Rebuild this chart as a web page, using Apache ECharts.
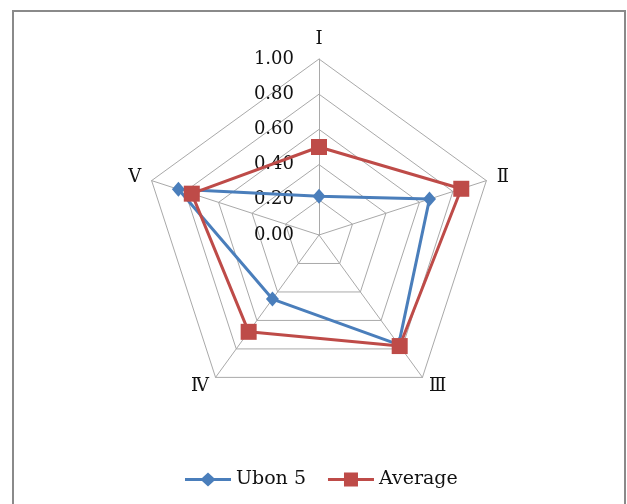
<!DOCTYPE html>
<html>
<head>
<meta charset="utf-8">
<script src="https://cdn.jsdelivr.net/npm/echarts@6/dist/echarts.min.js"></script>
<style>
  html, body { margin: 0; padding: 0; background: #fff; }
  #chart { width: 627px; height: 504px; }
</style>
</head>
<body>
<div id="chart"></div>
<script>
// Axes of the radar, in reading order (clockwise from the top)
const categories = ['Ⅰ', 'Ⅱ', 'Ⅲ', 'Ⅳ', 'Ⅴ'];
const ubon5 = [0.22, 0.66, 0.77, 0.45, 0.84];
const average = [0.50, 0.85, 0.78, 0.68, 0.76];
const tickValues = [0, 0.2, 0.4, 0.6, 0.8, 1.0];

const FONT = "'DejaVu Serif', 'Liberation Serif', serif";
const TEXT = '#111';
const CX = 319, CY = 235, R = 176;

// ECharts lays radar indicators out counter-clockwise, so feed them reversed after the first
const order = [0, 4, 3, 2, 1];
const pick = arr => order.map(i => arr[i]);

// legend keys: a line with the series marker in the middle
const ICON_DIAMOND = 'path://M0,5.5H17L23,0L29,5.5H46V8.5H29L23,14L17,8.5H0Z';
const ICON_SQUARE = 'path://M0,5.5H16V0H30V5.5H46V8.5H30V14H16V8.5H0Z';

const chart = echarts.init(document.getElementById('chart'));
chart.setOption({
  animation: false,
  backgroundColor: '#fff',
  graphic: [{
    type: 'rect',
    shape: { x: 13, y: 11, width: 612, height: 520 },
    style: { fill: 'none', stroke: '#8a8a8a', lineWidth: 2 },
    silent: true
  }],
  legend: {
    bottom: 10,
    left: 180,
    itemWidth: 46,
    itemHeight: 14,
    itemGap: 22,
    textStyle: { fontFamily: FONT, fontSize: 19, color: TEXT },
    data: [
      { name: 'Ubon 5', icon: ICON_DIAMOND },
      { name: 'Average', icon: ICON_SQUARE }
    ]
  },
  radar: {
    center: [CX, CY],
    radius: R,
    startAngle: 90,
    splitNumber: 5,
    shape: 'polygon',
    indicator: pick(categories).map(n => ({ name: n, min: 0, max: 1 })),
    axisName: { color: TEXT, fontFamily: FONT, fontSize: 18 },
    nameGap: 11,
    splitArea: { show: false },
    splitLine: { lineStyle: { color: '#a9a9a9', width: 1 } },
    axisLine: { lineStyle: { color: '#a9a9a9', width: 1 } },
    axisTick: { show: false },
    axisLabel: { show: false }
  },
  // value scale printed along the top spoke
  grid: { left: CX, top: CY - R, width: 1, height: R, containLabel: false },
  xAxis: { type: 'value', show: false },
  yAxis: {
    type: 'value',
    min: 0,
    max: 1,
    interval: 0.2,
    axisLine: { show: false },
    axisTick: { show: false },
    splitLine: { show: false },
    axisLabel: {
      margin: 25,
      fontFamily: FONT,
      fontSize: 18,
      color: TEXT,
      formatter: v => v.toFixed(2),
      customValues: tickValues
    }
  },
  series: [{
    type: 'radar',
    z: 3,
    data: [
      {
        name: 'Ubon 5',
        value: pick(ubon5),
        symbol: 'diamond',
        symbolSize: [13, 15],
        lineStyle: { color: '#4a7ebb', width: 3 },
        itemStyle: { color: '#4a7ebb' }
      },
      {
        name: 'Average',
        value: pick(average),
        symbol: 'rect',
        symbolSize: 16,
        lineStyle: { color: '#be4b48', width: 3 },
        itemStyle: { color: '#be4b48' }
      }
    ]
  }]
});
</script>
</body>
</html>
